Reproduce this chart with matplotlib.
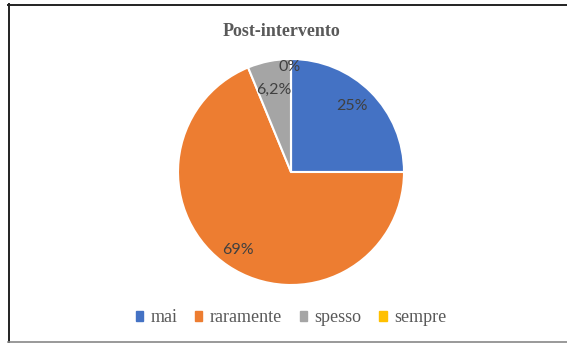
import matplotlib
matplotlib.use("Agg")
import matplotlib.pyplot as plt
from matplotlib.lines import Line2D
from matplotlib.patches import Patch

categories = ["mai", "raramente", "spesso", "sempre"]
values = [25.0, 68.8, 6.2, 0.0]
value_labels = ["25%", "69%", "6,2%", "0%"]
colors = ["#4472C4", "#ED7D31", "#A5A5A5", "#FFC000"]
title = "Post-intervento"

# label placement (fraction of radius) as Excel places them
label_pos = [(0.54, 0.58), (-0.47, -0.69), (-0.15, 0.73), (-0.01, 0.93)]

W, H = 567, 343
fig = plt.figure(figsize=(W / 100, H / 100), dpi=100)
fig.patch.set_facecolor("white")

cx, cy, r = 291, 172, 113
ax = fig.add_axes([(cx - r) / W, (H - cy - r) / H, 2 * r / W, 2 * r / H])
ax.pie(values, colors=colors, startangle=90, counterclock=False,
       wedgeprops=dict(edgecolor="white", linewidth=1.5), radius=1.0)
ax.set_xlim(-1, 1)
ax.set_ylim(-1, 1)
ax.set_aspect("equal")
ax.axis("off")

for (x, y), lab in zip(label_pos, value_labels):
    ax.text(x, y, lab, ha="center", va="center", fontsize=11.5,
            family="Lato", color="#404040")

fig.text(282 / W, 1 - 31 / H, title, ha="center", va="center",
         fontsize=13, fontweight="bold", family="Liberation Serif",
         color="#595959")

handles = [Patch(facecolor=c, edgecolor=c) for c in colors]
leg = fig.legend(handles, categories, loc="center", bbox_to_anchor=(291 / W, 1 - 318 / H),
                 ncol=4, frameon=False, handlelength=0.4, handleheight=0.4,
                 handletextpad=0.4, columnspacing=1.0,
                 prop=dict(family="Liberation Serif", size=13))
for t in leg.get_texts():
    t.set_color("#595959")

# frame lines
fig.add_artist(Line2D([8.5 / W, 8.5 / W], [0, 1 - 4 / H], transform=fig.transFigure,
                      color="#222222", linewidth=1.4))
fig.add_artist(Line2D([8 / W, 1], [1 - 4.5 / H, 1 - 4.5 / H], transform=fig.transFigure,
                      color="#222222", linewidth=1.4))
fig.add_artist(Line2D([8 / W, 1], [1 - 341.5 / H, 1 - 341.5 / H], transform=fig.transFigure,
                      color="#888888", linewidth=1.2))

fig.savefig("out.png", dpi=100, facecolor="white")
